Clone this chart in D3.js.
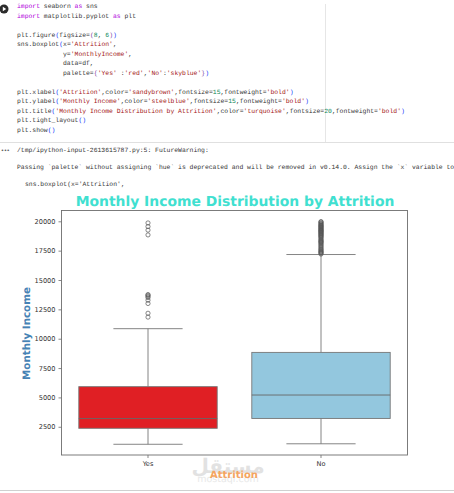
<!DOCTYPE html>
<html><head><meta charset="utf-8">
<script src="https://cdnjs.cloudflare.com/ajax/libs/d3/7.8.5/d3.min.js"></script>
<style>html,body{margin:0;padding:0;background:#fff;overflow:hidden}svg{display:block}text{text-rendering:geometricPrecision}</style>
</head><body><svg id="c" width="454" height="493"></svg>
<script>
const categories = ["Yes","No"];
const boxColors = ["#e01f24","#93c7de"];
const lowWhisker = [1009,1051];
const q1 = [2370,3210];
const median = [3202,5204];
const q3 = [5916,8835];
const highWhisker = [10855,17170];
const outliersYes = [19860,19550,19250,18840,13760,13700,13610,13500,13280,13000,12170,11840];
const outliersNo = [19970,19940,19860,19800,19740,19680,19630,19580,19540,19480,19430,19380,19330,19280,19230,19190,19150,19100,19050,19000,18950,18900,18840,18790,18740,18670,18610,18520,18430,18370,18300,18250,18200,18120,18040,17950,17860,17770,17670,17600,17530,17450,17400,17340,17280,17210];
const yTicks = [2500,5000,7500,10000,12500,15000,17500,20000];
const P="#af00db",K="#333333",S="#a31515",N="#098658",B="#0431fa",G="#7a3e9d";
const codeLines = [
 [[["import",P],[" seaborn ",K],["as",P],[" sns",K]],8],
 [[["import",P],[" matplotlib.pyplot ",K],["as",P],[" plt",K]],18],
 [[["plt.figure",K],["(",B],["figsize=",K],["(",G],["8",N],[", ",K],["6",N],[")",G],[")",B]],37],
 [[["sns.boxplot",K],["(",B],["x=",K],["'Attrition'",S],[",",K]],46],
 [[["            y=",K],["'MonthlyIncome'",S],[",",K]],56],
 [[["            data=df,",K]],65],
 [[["            palette=",K],["{",G],["'Yes'",S],[" :",K],["'red'",S],[",",K],["'No'",S],[":",K],["'skyblue'",S],["}",G],[")",B]],75],
 [[["plt.xlabel",K],["(",B],["'Attrition'",S],[",color=",K],["'sandybrown'",S],[",fontsize=",K],["15",N],[",fontweight=",K],["'bold'",S],[")",B]],94],
 [[["plt.ylabel",K],["(",B],["'Monthly Income'",S],[",color=",K],["'steelblue'",S],[",fontsize=",K],["15",N],[",fontweight=",K],["'bold'",S],[")",B]],103],
 [[["plt.title",K],["(",B],["'Monthly Income Distribution by Attrition'",S],[",color=",K],["'turquoise'",S],[",fontsize=",K],["20",N],[",fontweight=",K],["'bold'",S],[")",B]],113],
 [[["plt.tight_layout",K],["()",B]],122],
 [[["plt.show",K],["()",B]],132]
];
const outputLines = [
 ["/tmp/ipython-input-2613615787.py:5: FutureWarning:",17,152],
 ["Passing `palette` without assigning `hue` is deprecated and will be removed in v0.14.0. Assign the `x` variable to",17,169],
 ["sns.boxplot(x='Attrition',",25,186]
];

const svg = d3.select("#c");
const mono = "'Liberation Mono','DejaVu Sans Mono',monospace";
const sans = "'DejaVu Sans',sans-serif";
const charW = 3.84;

// notebook chrome
svg.append("line").attr("x1",325.5).attr("x2",325.5).attr("y1",4).attr("y2",142).attr("stroke","#e6e6e6");
svg.append("line").attr("x1",0).attr("x2",454).attr("y1",142.5).attr("y2",142.5).attr("stroke","#e0e0e0");
svg.append("line").attr("x1",0).attr("x2",454).attr("y1",490.5).attr("y2",490.5).attr("stroke","#d0d0d0");
svg.append("circle").attr("cx",4).attr("cy",9).attr("r",4.5).attr("fill","#2b2b2b");
svg.append("path").attr("d","M2.8 6.8L6.2 9L2.8 11.2Z").attr("fill","#fff");
svg.append("text").attr("x",1).attr("y",152).attr("font-family",sans).attr("font-size",4.5).attr("font-weight","bold").attr("fill","#666").text("•••");

const code = svg.append("g").attr("font-family",mono).attr("font-size",6.4);
codeLines.forEach(([tokens,ly])=>{
  const t = code.append("text").attr("y",ly).style("white-space","pre");
  let n = 0;
  tokens.forEach(([s,c])=>{
    t.append("tspan").attr("x",17+n*charW).attr("fill",c).text(s);
    n += s.length;
  });
});
svg.append("g").attr("font-family",mono).attr("font-size",6.4).attr("fill","#333")
  .selectAll("text").data(outputLines).join("text")
  .attr("x",d=>d[1]).attr("y",d=>d[2]).text(d=>d[0]);

// scales
const plotLeft=61.5,plotRight=407.5,plotTop=210.5,plotBottom=455;
const x = d3.scaleBand().domain(categories).range([plotLeft,plotRight]).paddingInner(0).paddingOuter(0);
const y = d3.scaleLinear().domain([96,20920]).range([plotBottom,plotTop]);
const bw = x.bandwidth()*0.8, cap = x.bandwidth()*0.4;
const lineColor="#777777", lw=0.9;

// watermark
const wm = svg.append("g").attr("text-anchor","middle");
wm.append("text").attr("x",228).attr("y",473).attr("font-family","'Noto Sans','DejaVu Sans',sans-serif").attr("font-size",20).attr("font-weight","bold").attr("fill","#e2e2e2").text("مستقل");
wm.append("text").attr("x",228).attr("y",482).attr("font-family",sans).attr("font-size",9.5).attr("fill","#e8e8e8").text("mostaql.com");

// boxes
const rows = categories.map((c,i)=>({c,i,lo:lowWhisker[i],q1:q1[i],m:median[i],q3:q3[i],hi:highWhisker[i]}));
const g = svg.append("g").attr("stroke",lineColor).attr("stroke-width",lw);
const row = g.selectAll("g").data(rows).join("g");
const cx = d=>x(d.c)+x.bandwidth()/2;
row.append("line").attr("x1",cx).attr("x2",cx).attr("y1",d=>y(d.q3)).attr("y2",d=>y(d.hi));
row.append("line").attr("x1",cx).attr("x2",cx).attr("y1",d=>y(d.q1)).attr("y2",d=>y(d.lo));
[d=>d.hi,d=>d.lo].forEach(f=>row.append("line").attr("x1",d=>cx(d)-cap/2).attr("x2",d=>cx(d)+cap/2).attr("y1",d=>y(f(d))).attr("y2",d=>y(f(d))));
row.append("rect").attr("x",d=>cx(d)-bw/2).attr("width",bw).attr("y",d=>y(d.q3)).attr("height",d=>y(d.q1)-y(d.q3)).attr("fill",d=>boxColors[d.i]);
row.append("line").attr("x1",d=>cx(d)-bw/2).attr("x2",d=>cx(d)+bw/2).attr("y1",d=>y(d.m)).attr("y2",d=>y(d.m)).attr("stroke","#666");

// fliers
[outliersYes,outliersNo].forEach((vals,i)=>{
  svg.append("g").attr("fill","none").attr("stroke","#555").attr("stroke-width",0.7)
   .selectAll("circle").data(vals).join("circle")
   .attr("cx",x(categories[i])+x.bandwidth()/2).attr("cy",d=>y(d)).attr("r",2.1);
});

// axes
const yAxis = svg.append("g").attr("transform",`translate(${plotLeft},0)`).call(d3.axisLeft(y).tickValues(yTicks).tickFormat(d3.format("d")).tickSize(3).tickPadding(3));
const xAxis = svg.append("g").attr("transform",`translate(0,${plotBottom})`).call(d3.axisBottom(x).tickSize(3).tickPadding(3));
[yAxis,xAxis].forEach(a=>{
  a.select(".domain").remove();
  a.selectAll("line").attr("stroke","#555").attr("stroke-width",0.7);
  a.selectAll("text").attr("font-family",sans).attr("font-size",6.6).attr("fill","#333");
});
svg.append("rect").attr("x",plotLeft).attr("y",plotTop).attr("width",plotRight-plotLeft).attr("height",plotBottom-plotTop).attr("fill","none").attr("stroke","#6e6e6e").attr("stroke-width",0.9);

// titles
svg.append("text").attr("x",235).attr("y",205.5).attr("text-anchor","middle").attr("font-family",sans).attr("font-weight","bold").attr("font-size",13.9).attr("fill","#40e0d0").text("Monthly Income Distribution by Attrition");
svg.append("text").attr("transform","translate(29.5,333.5) rotate(-90)").attr("text-anchor","middle").attr("font-family",sans).attr("font-weight","bold").attr("font-size",10.3).attr("fill","#4682b4").text("Monthly Income");
svg.append("text").attr("x",234).attr("y",477.7).attr("text-anchor","middle").attr("font-family",sans).attr("font-weight","bold").attr("font-size",10).attr("fill","#f4a460").text("Attrition");
</script></body></html>
